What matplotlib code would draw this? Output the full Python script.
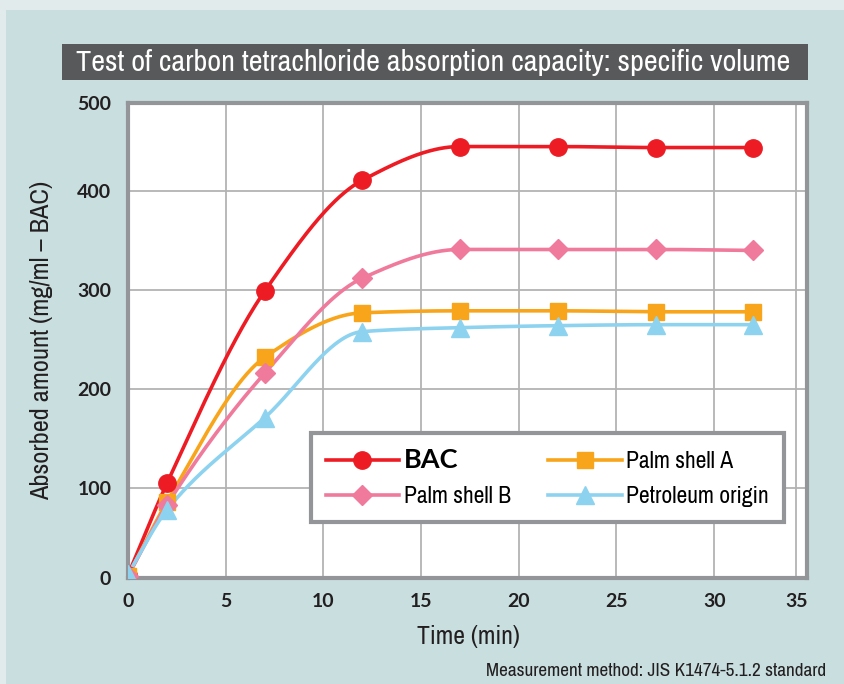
import numpy as np
import matplotlib
matplotlib.use("Agg")
import matplotlib.pyplot as plt
from matplotlib import font_manager
from matplotlib.patches import Rectangle

# data
time_min = [0, 2, 7, 12, 17, 22, 27, 32]
bac = [12, 105, 299, 411, 445, 445, 444, 444]
palm_b = [11, 83, 216, 312, 341, 341, 341, 340]
palm_a = [11, 86, 232, 277, 279, 279, 278, 278]
petroleum = [13, 78, 171, 258, 262, 264, 265, 265]

x_tick_labels = ["0", "5", "10", "15", "20", "25", "30", "35"]
y_tick_labels = ["0", "100", "200", "300", "400", "500"]


def narrow_font():
    # pick a condensed face if one is installed, else plain Liberation Sans
    for f in font_manager.fontManager.ttflist:
        if "Narrow" in f.name or "Condensed" in f.name:
            return {"family": f.name}
    for f in font_manager.fontManager.ttflist:
        if f.name == "DejaVu Sans" and f.stretch == "condensed" and f.weight in (400, "normal"):
            return {"family": "DejaVu Sans", "stretch": "condensed"}
    return {"family": "Liberation Sans"}


NARROW = narrow_font()


def pchip(x, y, xs):
    # monotone cubic so the plateaus stay flat
    x = np.asarray(x, float)
    y = np.asarray(y, float)
    h = np.diff(x)
    d = np.diff(y) / h
    m = np.zeros_like(y)
    m[0], m[-1] = d[0], d[-1]
    for k in range(1, len(x) - 1):
        if d[k - 1] * d[k] <= 0:
            m[k] = 0
        else:
            w1 = 2 * h[k] + h[k - 1]
            w2 = h[k] + 2 * h[k - 1]
            m[k] = (w1 + w2) / (w1 / d[k - 1] + w2 / d[k])
    idx = np.clip(np.searchsorted(x, xs) - 1, 0, len(x) - 2)
    t = (xs - x[idx]) / h[idx]
    h00 = 2 * t**3 - 3 * t**2 + 1
    h10 = t**3 - 2 * t**2 + t
    h01 = -2 * t**3 + 3 * t**2
    h11 = t**3 - t**2
    return h00 * y[idx] + h10 * h[idx] * m[idx] + h01 * y[idx + 1] + h11 * h[idx] * m[idx + 1]


fig = plt.figure(figsize=(8.45, 6.84), dpi=100)
fig.patch.set_facecolor("#e2ebec")
fig.patches.append(Rectangle((6 / 845, 0), 1, 1 - 10 / 684, transform=fig.transFigure,
                             facecolor="#c9dedf", edgecolor="none", zorder=-10))
fig.patches.append(Rectangle((62 / 845, 1 - 80 / 684), 746 / 845, 36 / 684, transform=fig.transFigure,
                             facecolor="#58595b", edgecolor="none", zorder=-5))
fig.text(433 / 845, 1 - 62 / 684, "Test of carbon tetrachloride absorption capacity: specific volume",
         ha="center", va="center", color="white", fontsize=21.8, **NARROW)

ax = fig.add_axes([128 / 845, 1 - 578 / 684, 679 / 845, 475 / 684])
ax.set_facecolor("white")

xs = np.linspace(0, 32, 400)
styles = [
    (bac, "#ed1c24", "o", 12.5, "BAC"),
    (palm_a, "#f8a51b", "s", 11.5, "Palm shell A"),
    (palm_b, "#f07a9c", "D", 10.5, "Palm shell B"),
    (petroleum, "#8dd3f0", "^", 12.5, "Petroleum origin"),
]
handles = {}
for vals, col, mk, ms, name in styles:
    ax.plot(xs, pchip(time_min, vals, xs), color=col, lw=2.6, zorder=3)
    ax.plot(time_min, vals, ls="none", marker=mk, ms=ms, color=col, mec=col, zorder=4)
    handles[name] = ax.plot([], [], color=col, lw=2.6, marker=mk, ms=ms, mec=col)[0]

# the drawn frame ends short of 0 and 500, the end labels sit on it
ax.set_xlim(0, 34.75)
ax.set_ylim(9, 489)
ax.set_xticks([0, 5, 10, 15, 20, 25, 30, 34.2])
ax.set_xticklabels(x_tick_labels)
ax.set_yticks([9, 100, 200, 300, 400, 489])
ax.set_yticklabels(y_tick_labels)
ax.tick_params(length=0, labelsize=14, labelcolor="#231f20")
ax.tick_params(axis="x", pad=11)
ax.tick_params(axis="y", pad=12)
for lab in ax.get_xticklabels() + ax.get_yticklabels():
    lab.set_fontweight("bold")
    lab.set_family("Lato")
ax.grid(True, color="#b3b3b3", lw=1.3)
ax.set_axisbelow(True)
for sp in ax.spines.values():
    sp.set_color("#939598")
    sp.set_linewidth(3)

order = ["BAC", "Palm shell B", "Palm shell A", "Petroleum origin"]
leg = ax.legend([handles[n] for n in order], order,
                ncol=2, loc="upper left", bbox_to_anchor=(0.2695, 0.305),
                prop=dict(size=17, **NARROW), handlelength=3.1, handletextpad=0.2,
                columnspacing=1.6, labelspacing=0.62, borderpad=0.62, borderaxespad=0,
                fancybox=False, framealpha=1, edgecolor="#939598")
leg.get_frame().set_linewidth(3)
leg.set_zorder(5)
bac_txt = leg.get_texts()[0]
bac_txt.set_fontweight("bold")
bac_txt.set_fontsize(19.5)
bac_txt.set_family("Lato")

fig.text(42 / 845, 1 - 340 / 684, "Absorbed amount (mg/ml \u2013 BAC)", rotation=90,
         ha="center", va="center", fontsize=19, color="#231f20", **NARROW)
fig.text(468 / 845, 1 - 636 / 684, "Time (min)", ha="center", va="center",
         fontsize=18.5, color="#231f20", **NARROW)
fig.text(826 / 845, 1 - 671 / 684, "Measurement method: JIS K1474-5.1.2 standard",
         ha="right", va="center", fontsize=13.8, color="#231f20", **NARROW)

fig.savefig("out.png", dpi=100, facecolor=fig.get_facecolor())
